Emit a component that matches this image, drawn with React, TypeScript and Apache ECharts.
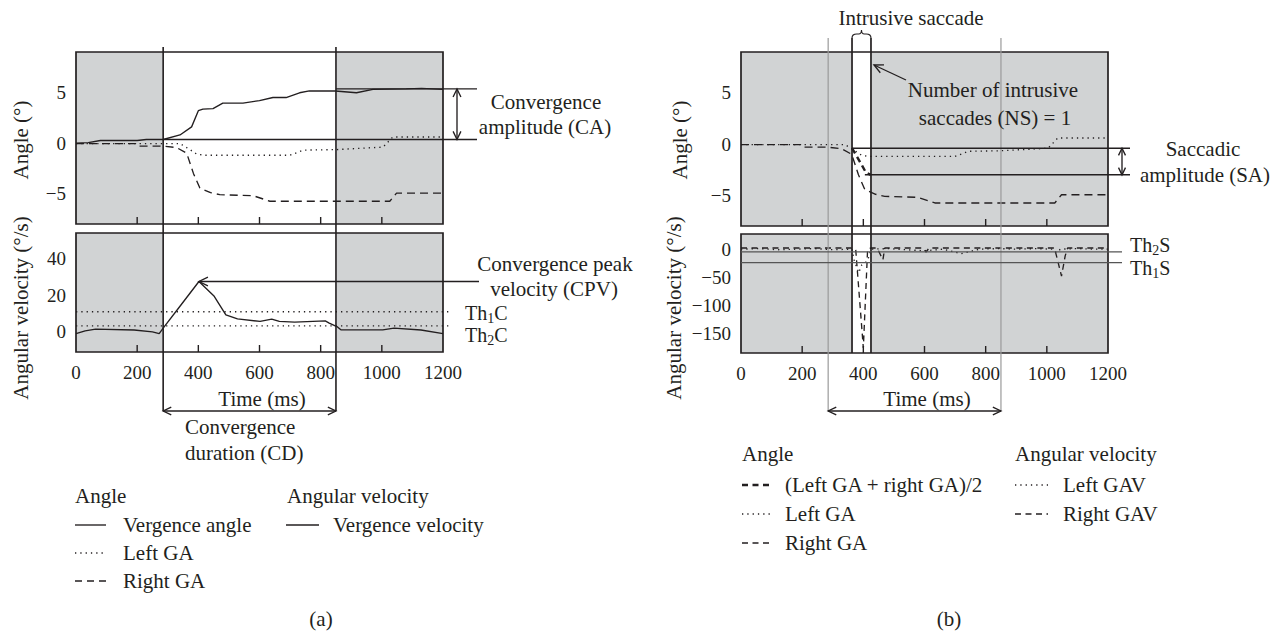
import React, { useEffect, useRef } from "react";
import * as echarts from "echarts";

const INK = "#231f20";
const PANEL_GRAY = "#d1d3d4";
const GUIDE_GRAY = "#9a9a9a";
const FONT = '"Liberation Serif", "Times New Roman", serif';
const TEXT_SIZE = 21;
const TH_SIZE = 20;
const TICK_SIZE = 19;
const SUB_SIZE = 14;

// ---- axes ----
const timeTicks = [0, 200, 400, 600, 800, 1000, 1200];
const angleTicks = [-5, 0, 5];
const vergenceVelocityTicks = [0, 20, 40];
const gazeVelocityTicks = [-150, -100, -50, 0];

// ---- panel (a): angles (deg) ----
const vergenceAngleT = [0, 40, 80, 200, 230, 285, 340, 378, 400, 415, 448, 480, 546, 600, 644, 687, 731, 763, 848, 917, 971, 1080, 1130, 1200];
const vergenceAngleV = [0.0, 0.05, 0.25, 0.25, 0.35, 0.35, 0.8, 1.6, 3.2, 3.35, 3.4, 3.95, 3.95, 4.2, 4.5, 4.5, 4.97, 5.15, 5.15, 4.97, 5.3, 5.35, 5.4, 5.3];
const leftGaT = [0, 285, 340, 370, 395, 420, 700, 744, 848, 1004, 1036, 1200];
const leftGaV = [-0.05, -0.05, -0.05, -0.6, -1.1, -1.2, -1.2, -0.7, -0.65, -0.4, 0.6, 0.6];
const rightGaT = [0, 195, 200, 285, 329, 362, 384, 405, 440, 470, 579, 634, 1026, 1048, 1200];
const rightGaV = [-0.05, -0.05, -0.3, -0.3, -0.45, -1.0, -3.0, -4.45, -4.9, -5.1, -5.2, -5.75, -5.75, -4.95, -4.95];

// ---- panel (a): vergence velocity (deg/s) ----
const vergenceVelT = [0, 30, 64, 190, 250, 272, 285, 340, 402, 452, 490, 528, 602, 640, 665, 715, 815, 828, 853, 866, 1003, 1040, 1128, 1200];
const vergenceVelV = [-1, 0.5, 1.5, 1, 0, -1, 2, 14, 27.5, 19.4, 9.3, 7.1, 5.7, 7, 5.7, 5.3, 6, 4.8, 2.9, 1.1, 1.1, 2, 1, -1];

// ---- panel (a): annotations ----
const convergenceWindow = [285, 850];
const caLevels = [0.35, 5.35];
const cpvPeak = [402, 27.5];
const th1C = 11;
const th2C = 3.3;

// ---- panel (b): angles ----
const averageGaT = [363, 373, 396, 409, 424];
const averageGaV = [-0.4, -0.9, -2.1, -2.8, -3.0];

// ---- panel (b): gaze velocities (deg/s) ----
const leftGavT = [0, 60, 120, 180, 240, 300, 363, 370, 385, 395, 405, 415, 425, 480, 540, 600, 660, 720, 780, 840, 900, 960, 1020, 1030, 1045, 1100, 1150, 1200];
const leftGavV = [0, 1, -1, 0, 1, -1, 0, -20, -42, -28, -25, -19, 0, 1, -1, -3, 0, -8, 0, 1, 0, 1, 0, -6, 0, 1, 0, 0];
const rightGavT = [0, 360, 375, 400, 414, 425, 445, 464, 470, 595, 605, 615, 1025, 1033, 1048, 1060, 1068, 1200];
const rightGavV = [2, 2, 0, -176, 0, 2, 2, -19, 2, 2, -5, 2, 2, -15, -48, -12, 2, 2];

// ---- panel (b): annotations ----
const saccadeWindow = [363, 425];
const saLevels = [-0.4, -3.0];
const saLowerStart = 405;
const th2S = -5;
const th1S = -24;

// layout
const GRIDS = [
  { left: 76, top: 52, width: 367, height: 172 },
  { left: 76, top: 233, width: 367, height: 119 },
  { left: 741, top: 52, width: 367, height: 174 },
  { left: 741, top: 234, width: 367, height: 119 },
];
const Y_RANGES = [
  [-8, 9],
  [-11, 54],
  [-8, 9],
  [-185, 27],
];
const Y_TICKS = [angleTicks, vergenceVelocityTicks, angleTicks, gazeVelocityTicks];

const LW = 1.35;
const DOTTED = [1.3, 4];
const DASHED = [8, 5];

const zip = (t: number[], v: number[]) => t.map((x, i) => [x, v[i]]);
const fmt = (v: number) => (v < 0 ? "\u2212" + Math.abs(v) : String(v));

function lineSeries(g: number, t: number[], v: number[], type: any, width = LW) {
  return {
    type: "line",
    xAxisIndex: g,
    yAxisIndex: g,
    data: zip(t, v),
    showSymbol: false,
    symbol: "none",
    silent: true,
    z: 3,
    lineStyle: { color: INK, width, type },
  };
}

function bandSeries(g: number, a: number, b: number) {
  const yMin = Y_RANGES[g][0];
  return {
    type: "line",
    xAxisIndex: g,
    yAxisIndex: g,
    data: [
      [a, yMin],
      [b, yMin],
    ],
    showSymbol: false,
    symbol: "none",
    silent: true,
    z: 1,
    lineStyle: { opacity: 0 },
    markArea: {
      silent: true,
      itemStyle: { color: "#ffffff" },
      data: [[{ xAxis: a }, { xAxis: b }]],
    },
  };
}

echarts.graphic.registerShape(
  "brace",
  echarts.graphic.extendPath(
    "M0 10 C0 6 2 5 5 5 L7 5 C9 5 10 3 10 0 C10 3 11 5 13 5 L15 5 C18 5 20 6 20 10",
    {}
  ) as any
);

function buildGraphics(P: (g: number, t: number, v: number) => number[]) {
  const els: any[] = [];
  const L = (x1: number, y1: number, x2: number, y2: number, o: any = {}) =>
    els.push({
      type: "line",
      silent: true,
      z: o.z || 100,
      shape: { x1, y1, x2, y2 },
      style: { stroke: o.color || INK, lineWidth: o.w || LW, lineDash: o.dash || null },
    });
  const head = (tx: number, ty: number, back: number, len = 9, spread = 0.45) =>
    els.push({
      type: "polyline",
      silent: true,
      z: 100,
      shape: {
        points: [
          [tx + len * Math.cos(back + spread), ty + len * Math.sin(back + spread)],
          [tx, ty],
          [tx + len * Math.cos(back - spread), ty + len * Math.sin(back - spread)],
        ],
      },
      style: { stroke: INK, lineWidth: LW, fill: "none" },
    });
  const T = (x: number, y: number, str: string, o: any = {}) =>
    els.push({
      type: "text",
      silent: true,
      z: 100,
      x,
      y,
      rotation: o.rot || 0,
      style: {
        text: str,
        fontSize: o.size || TEXT_SIZE,
        fontFamily: FONT,
        fill: INK,
        lineHeight: o.lh,
        textAlign: o.align || "left",
        textVerticalAlign: "middle",
        align: o.align || "left",
        verticalAlign: "middle",
      },
    });
  // threshold label with a subscript: "Th" + sub + letter
  const TH = (x: number, y: number, subText: string, letter: string) => {
    const thWidth = (0.611 + 0.5) * TH_SIZE;
    T(x, y, "Th", { size: TH_SIZE, lh: 16 });
    T(x + thWidth, y + 6, subText, { size: SUB_SIZE, lh: 11 });
    T(x + thWidth + 0.5 * SUB_SIZE, y, letter, { size: TH_SIZE, lh: 16 });
  };

  // box borders and inside ticks on the time axis
  for (let g = 0; g < 4; g++) {
    const [x0, y0] = P(g, 0, Y_RANGES[g][1]);
    const [x1, y1] = P(g, 1200, Y_RANGES[g][0]);
    els.push({
      type: "rect",
      silent: true,
      z: 90,
      shape: { x: x0, y: y0, width: x1 - x0, height: y1 - y0 },
      style: { fill: "none", stroke: INK, lineWidth: 1.7 },
    });
    timeTicks.slice(1, -1).forEach((t) => {
      const [tx, ty] = P(g, t, Y_RANGES[g][0]);
      L(tx, ty, tx, ty - 7, { w: 1.4, z: 95 });
    });
  }

  // ===== panel (a) =====
  const xa1 = P(0, convergenceWindow[0], 0)[0];
  const xa2 = P(0, convergenceWindow[1], 0)[0];
  L(xa1, 47, xa1, 411, { w: 1.6 });
  L(xa2, 47, xa2, 411, { w: 1.6 });
  // CD arrow
  L(xa1, 411, xa2, 411);
  head(xa1, 411, 0);
  head(xa2, 411, Math.PI);
  // CA
  const yCaLow = P(0, 0, caLevels[0])[1];
  const yCaHigh = P(0, 0, caLevels[1])[1];
  L(xa1, yCaLow, 477, yCaLow);
  L(xa2, yCaHigh, 477, yCaHigh);
  L(457, yCaHigh, 457, yCaLow);
  head(457, yCaHigh, Math.PI / 2);
  head(457, yCaLow, -Math.PI / 2);
  T(546, 102, "Convergence", { align: "center" });
  T(545, 127, "amplitude (CA)", { align: "center" });
  // CPV
  const [cpx, cpy] = P(1, cpvPeak[0], cpvPeak[1]);
  L(cpx, cpy, 479, cpy);
  head(cpx, cpy, 0, 10);
  T(555, 264, "Convergence peak", { align: "center" });
  T(554, 289, "velocity (CPV)", { align: "center" });
  // thresholds
  const yTh1C = P(1, 0, th1C)[1];
  const yTh2C = P(1, 0, th2C)[1];
  const gl = P(1, 0, 0)[0];
  L(gl, yTh1C, 452, yTh1C, { dash: DOTTED });
  L(gl, yTh2C, 452, yTh2C, { dash: DOTTED });
  TH(465, yTh1C + 1, "1", "C");
  TH(465, yTh2C + 9, "2", "C");
  // axis names
  T(21, 140, "Angle (\u00b0)", { align: "center", rot: Math.PI / 2 });
  T(21, 308, "Angular velocity (\u00b0/s)", { align: "center", rot: Math.PI / 2 });
  T(262, 399, "Time (ms)", { align: "center" });
  T(185, 427, "Convergence");
  T(185, 453, "duration (CD)");
  // legend (a)
  T(75, 496, "Angle");
  L(75, 525, 106, 525);
  T(123, 525, "Vergence angle");
  L(75, 553, 106, 553, { dash: DOTTED });
  T(123, 553, "Left GA");
  L(75, 581, 110, 581, { dash: [7, 5] });
  T(123, 581, "Right GA");
  T(287, 496, "Angular velocity");
  L(286, 525, 319, 525);
  T(333, 525, "Vergence velocity");
  T(321, 619, "(a)", { align: "center" });

  // ===== panel (b) =====
  const xg1 = P(2, convergenceWindow[0], 0)[0];
  const xg2 = P(2, convergenceWindow[1], 0)[0];
  L(xg1, 38, xg1, 411, { color: GUIDE_GRAY, w: 1.2 });
  L(xg2, 38, xg2, 411, { color: GUIDE_GRAY, w: 1.2 });
  L(xg1, 411, xg2, 411);
  head(xg1, 411, 0);
  head(xg2, 411, Math.PI);
  const xs1 = P(2, saccadeWindow[0], 0)[0];
  const xs2 = P(2, saccadeWindow[1], 0)[0];
  const yBottom = P(3, 0, Y_RANGES[3][0])[1];
  L(xs1, 38, xs1, yBottom, { w: 1.7 });
  L(xs2, 38, xs2, yBottom, { w: 1.7 });
  els.push({
    type: "brace",
    silent: true,
    z: 100,
    x: xs1,
    y: 30,
    scaleX: (xs2 - xs1) / 20,
    scaleY: 0.8,
    style: { stroke: INK, fill: "none", lineWidth: 1.2 },
  });
  T(911, 18, "Intrusive saccade", { align: "center" });
  // NS arrow
  L(906, 80, 874, 65);
  head(874, 65, Math.atan2(15, 32), 10);
  T(993, 90, "Number of intrusive", { align: "center" });
  T(995, 118, "saccades (NS) = 1", { align: "center" });
  // SA
  const ySaU = P(2, 0, saLevels[0])[1];
  const ySaL = P(2, 0, saLevels[1])[1];
  const xSaL = P(2, saLowerStart, 0)[0];
  L(xs1, ySaU, 1130, ySaU, { w: 1.6 });
  L(xSaL, ySaL, 1130, ySaL, { w: 1.6 });
  L(1122, ySaU, 1122, ySaL);
  head(1122, ySaU, Math.PI / 2, 8);
  head(1122, ySaL, -Math.PI / 2, 8);
  T(1203, 149, "Saccadic", { align: "center" });
  T(1205, 175, "amplitude (SA)", { align: "center" });
  // thresholds
  const yTh2S = P(3, 0, th2S)[1];
  const yTh1S = P(3, 0, th1S)[1];
  const gl3 = P(3, 0, 0)[0];
  L(gl3, yTh2S, 1122, yTh2S, { color: "#555555", w: 1.2 });
  L(gl3, yTh1S, 1122, yTh1S, { color: "#555555", w: 1.2 });
  TH(1130, yTh2S - 7, "2", "S");
  TH(1130, yTh1S + 5, "1", "S");
  // axis names
  T(680, 140, "Angle (\u00b0)", { align: "center", rot: Math.PI / 2 });
  T(674, 308, "Angular velocity (\u00b0/s)", { align: "center", rot: Math.PI / 2 });
  T(927, 399, "Time (ms)", { align: "center" });
  // legend (b)
  T(742, 454, "Angle");
  L(742, 485, 773, 485, { w: 2.4, dash: [6, 4.5] });
  T(785, 485, "(Left GA + right GA)/2");
  L(742, 514, 770, 514, { dash: DOTTED });
  T(785, 514, "Left GA");
  L(742, 543, 773, 543, { dash: [6, 4.5] });
  T(785, 543, "Right GA");
  T(1015, 454, "Angular velocity");
  L(1015, 485, 1048, 485, { dash: DOTTED });
  T(1063, 485, "Left GAV");
  L(1015, 514, 1048, 514, { dash: [6, 4.5] });
  T(1063, 514, "Right GAV");
  T(949, 619, "(b)", { align: "center" });

  return els;
}

function baseOption(): any {
  return {
    animation: false,
    backgroundColor: "#ffffff",
    textStyle: { fontFamily: FONT },
    grid: GRIDS.map((r) => ({
      ...r,
      show: true,
      backgroundColor: PANEL_GRAY,
      borderWidth: 0,
      containLabel: false,
    })),
    xAxis: GRIDS.map((_, g) => ({
      type: "value",
      gridIndex: g,
      position: "bottom",
      min: timeTicks[0],
      max: timeTicks[timeTicks.length - 1],
      interval: 200,
      axisLine: { show: false, onZero: false },
      axisTick: { show: false },
      splitLine: { show: false },
      axisLabel: {
        show: g === 1 || g === 3,
        margin: 11,
        fontSize: TICK_SIZE,
        fontFamily: FONT,
        color: INK,
        formatter: fmt,
      },
    })),
    yAxis: GRIDS.map((_, g) => ({
      type: "value",
      gridIndex: g,
      position: "left",
      min: Y_RANGES[g][0],
      max: Y_RANGES[g][1],
      axisLine: { show: false, onZero: false },
      axisTick: { show: false },
      splitLine: { show: false },
      axisLabel: {
        show: true,
        customValues: Y_TICKS[g],
        margin: 10,
        fontSize: TICK_SIZE,
        fontFamily: FONT,
        color: INK,
        formatter: fmt,
      },
    })),
    series: [
      bandSeries(0, convergenceWindow[0], convergenceWindow[1]),
      bandSeries(1, convergenceWindow[0], convergenceWindow[1]),
      bandSeries(2, saccadeWindow[0], saccadeWindow[1]),
      bandSeries(3, saccadeWindow[0], saccadeWindow[1]),
      // (a)
      lineSeries(0, leftGaT, leftGaV, DOTTED),
      lineSeries(0, rightGaT, rightGaV, DASHED),
      lineSeries(0, vergenceAngleT, vergenceAngleV, "solid"),
      lineSeries(1, vergenceVelT, vergenceVelV, "solid"),
      // (b)
      lineSeries(2, leftGaT, leftGaV, DOTTED),
      lineSeries(2, rightGaT, rightGaV, DASHED),
      lineSeries(2, averageGaT, averageGaV, [6, 4], 2.4),
      lineSeries(3, leftGavT, leftGavV, DOTTED),
      lineSeries(3, rightGavT, rightGavV, [6, 4.5]),
    ],
  };
}

export default function App() {
  const ref = useRef<HTMLDivElement>(null);
  useEffect(() => {
    const el = ref.current;
    if (!el) return;
    const chart = echarts.init(el, null, { renderer: "svg" });
    chart.setOption(baseOption());
    const P = (g: number, t: number, v: number) =>
      chart.convertToPixel({ gridIndex: g } as any, [t, v]) as unknown as number[];
    chart.setOption({ graphic: { elements: buildGraphics(P) } });
    return () => chart.dispose();
  }, []);
  return (
    <div
      ref={ref}
      style={{ position: "absolute", left: 0, top: 0, width: 1277, height: 633, background: "#fff" }}
    />
  );
}
